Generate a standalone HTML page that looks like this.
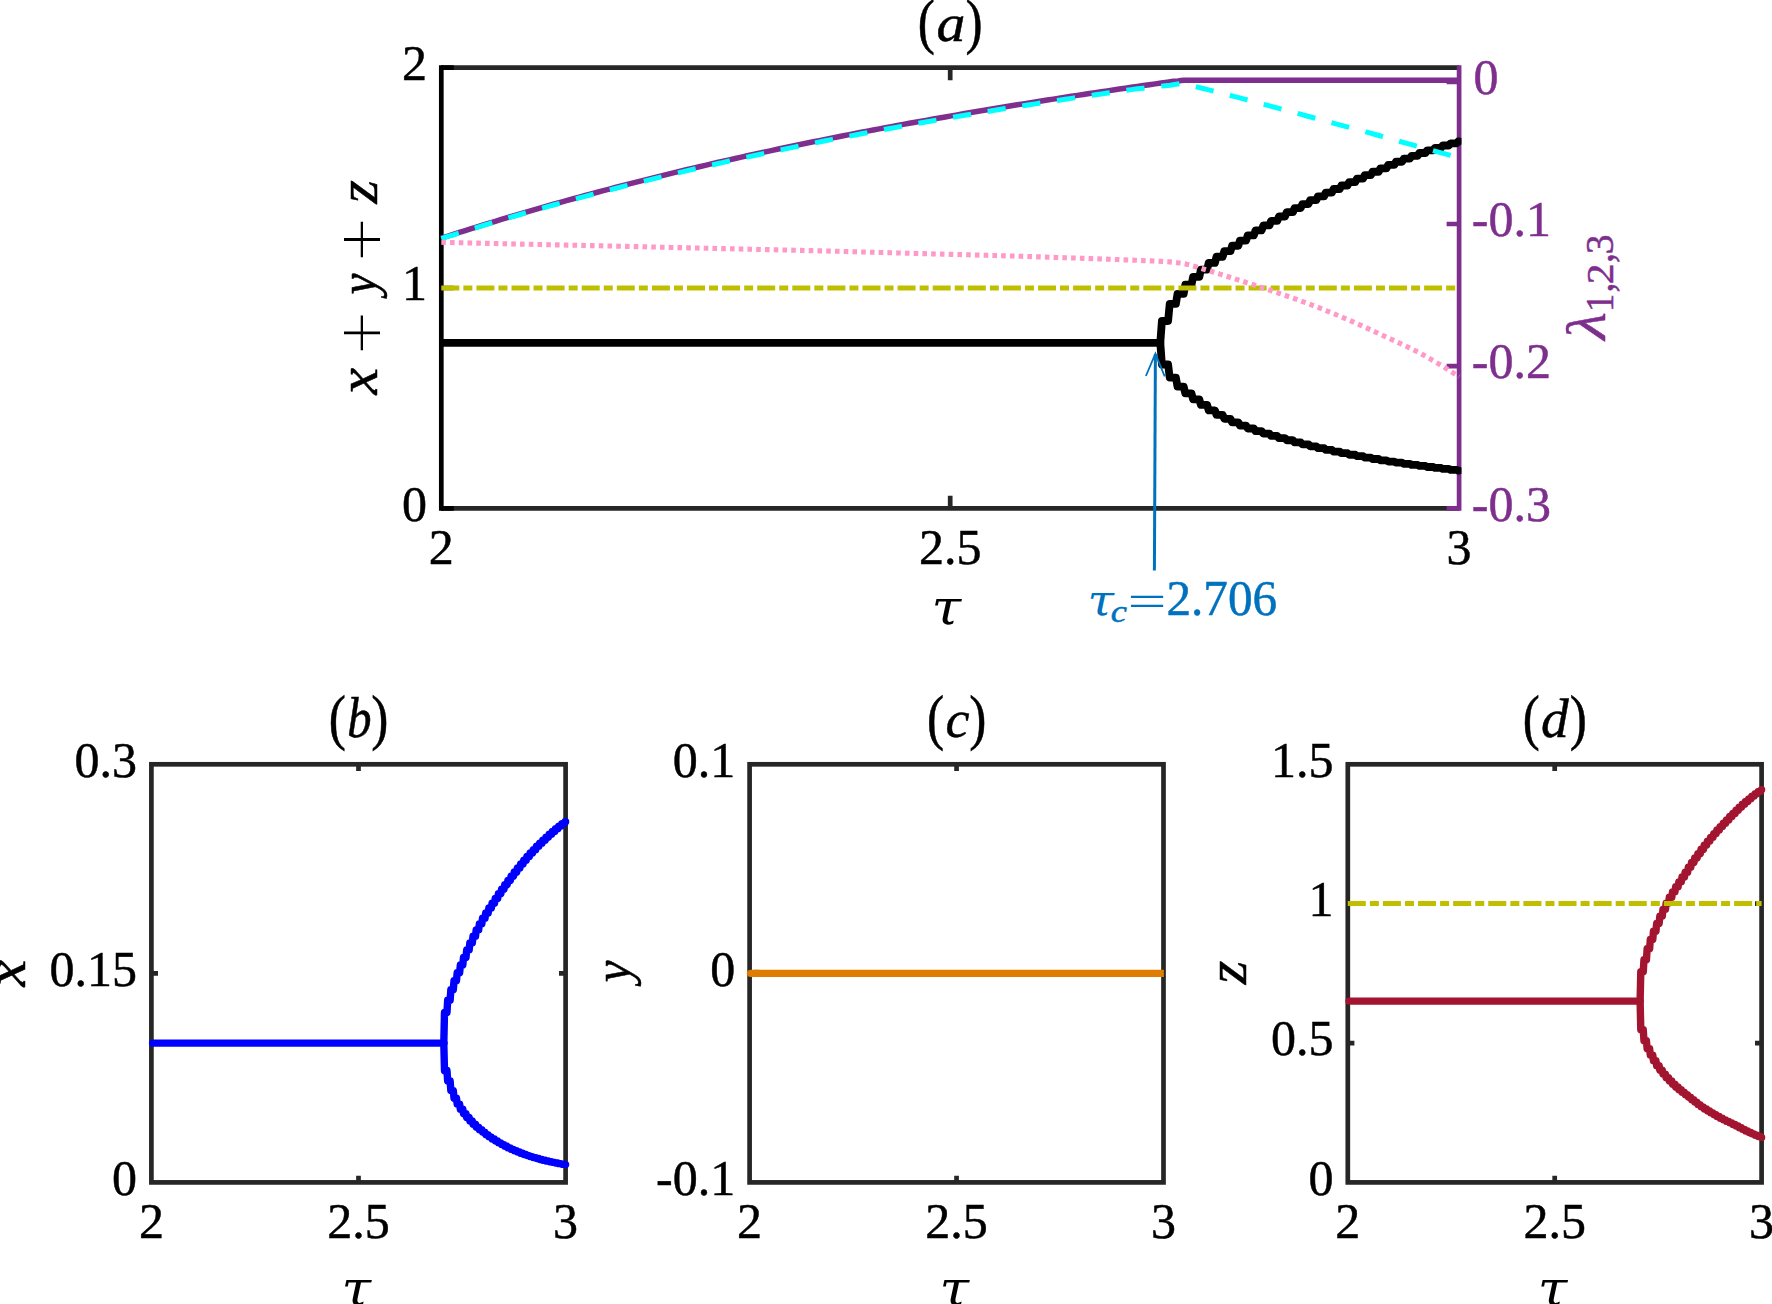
<!DOCTYPE html>
<html lang="en"><head><meta charset="utf-8"><title>Bifurcation diagrams</title>
<style>html,body{margin:0;padding:0;background:#fff}svg{display:block}</style></head>
<body>
<svg width="1772" height="1304" viewBox="0 0 1772 1304" font-family="'Liberation Serif','DejaVu Serif',serif">
<rect width="1772" height="1304" fill="#fff"/>
<g fill="none" stroke-width="4.7" stroke-linecap="butt">
<path stroke="#262626" d="M441.3 67.7 H1459.1 M441.3 508.3 H1459.1"/>
<path stroke="#262626" d="M950.2 67.7 v12.5 M950.2 508.3 v-12.5"/>
<path stroke="#000" d="M441.3 65.35 V510.65"/>
<path stroke="#000" d="M441.3 67.7 h12.5 M441.3 288 h12.5 M441.3 508.3 h12.5"/>
<path stroke="#7E2F8E" d="M1459.1 65.35 V510.65"/>
<path stroke="#7E2F8E" d="M1459.1 81.9 h-12.5 M1459.1 224 h-12.5 M1459.1 366.1 h-12.5 M1459.1 508.3 h-12.5"/>
</g>
<clipPath id="ca"><rect x="430" y="60" width="1031.45" height="460"/></clipPath>
<g fill="none" stroke-linejoin="round" clip-path="url(#ca)">
<path stroke="#000" stroke-width="7.8" stroke-linecap="butt" d="M441.3 342.9 H1160.3"/>
<path stroke="#000" stroke-width="7.8" stroke-linecap="round" d="M1160.3 342.9 L1161.9 321 L1168.1 321 L1169.7 303.9 L1175.9 303.9 L1177.5 293.78 L1183.7 293.78 L1185.3 284.76 L1191.5 284.76 L1193.1 276.87 L1199.3 276.87 L1200.9 269.64 L1207.1 269.64 L1208.7 262.89 L1214.9 262.89 L1216.5 256.77 L1222.7 256.77 L1224.3 251.11 L1230.5 251.11 L1232.1 245.74 L1238.3 245.74 L1239.9 240.58 L1246.1 240.58 L1247.7 235.41 L1253.9 235.41 L1255.5 230.3 L1261.7 230.3 L1263.3 225.47 L1269.5 225.47 L1271.1 220.88 L1277.3 220.88 L1278.9 216.48 L1285.1 216.48 L1286.7 212.22 L1292.9 212.22 L1294.5 208.09 L1300.7 208.09 L1302.3 204.08 L1308.5 204.08 L1310.1 200.18 L1316.3 200.18 L1317.9 196.37 L1324.1 196.37 L1325.7 192.65 L1331.9 192.65 L1333.5 189.02 L1339.7 189.02 L1341.3 185.49 L1347.5 185.49 L1349.1 182.03 L1355.3 182.03 L1356.9 178.61 L1363.1 178.61 L1364.7 175.2 L1370.9 175.2 L1372.5 171.75 L1378.7 171.75 L1380.3 168.31 L1386.5 168.31 L1388.1 164.95 L1394.3 164.95 L1395.9 161.73 L1402.1 161.73 L1403.7 158.7 L1409.9 158.7 L1411.5 155.8 L1417.7 155.8 L1419.3 153 L1425.5 153 L1427.1 150.34 L1433.3 150.34 L1434.9 147.83 L1441.1 147.83 L1442.7 145.49 L1448.9 145.49 L1450.5 143.32 L1456.7 143.32 L1458.3 141.3 L1459.1 141.3"/>
<path stroke="#000" stroke-width="7.8" stroke-linecap="round" d="M1160.3 342.9 L1161.9 364.52 L1168.1 364.52 L1169.7 377.6 L1175.9 377.6 L1177.5 386.53 L1183.7 386.53 L1185.3 393.44 L1191.5 393.44 L1193.1 399.33 L1199.3 399.33 L1200.9 404.95 L1207.1 404.95 L1208.7 410.41 L1214.9 410.41 L1216.5 414.93 L1222.7 414.93 L1224.3 418.81 L1230.5 418.81 L1232.1 422.33 L1238.3 422.33 L1239.9 425.56 L1246.1 425.56 L1247.7 428.51 L1253.9 428.51 L1255.5 431.18 L1261.7 431.18 L1263.3 433.63 L1269.5 433.63 L1271.1 435.96 L1277.3 435.96 L1278.9 438.16 L1285.1 438.16 L1286.7 440.26 L1292.9 440.26 L1294.5 442.32 L1300.7 442.32 L1302.3 444.34 L1308.5 444.34 L1310.1 446.3 L1316.3 446.3 L1317.9 448.17 L1324.1 448.17 L1325.7 449.93 L1331.9 449.93 L1333.5 451.61 L1339.7 451.61 L1341.3 453.22 L1347.5 453.22 L1349.1 454.75 L1355.3 454.75 L1356.9 456.22 L1363.1 456.22 L1364.7 457.63 L1370.9 457.63 L1372.5 458.99 L1378.7 458.99 L1380.3 460.28 L1386.5 460.28 L1388.1 461.53 L1394.3 461.53 L1395.9 462.72 L1402.1 462.72 L1403.7 463.85 L1409.9 463.85 L1411.5 464.93 L1417.7 464.93 L1419.3 465.97 L1425.5 465.97 L1427.1 466.98 L1433.3 466.98 L1434.9 467.97 L1441.1 467.97 L1442.7 468.96 L1448.9 468.96 L1450.5 469.91 L1456.7 469.91 L1458.3 470.6 L1459.1 470.6"/>
<path stroke="#BFBF00" stroke-width="5.1" stroke-dasharray="18 4.05 9 4.05" d="M441.3 288 H1457.1"/>
<path stroke="#7E2F8E" stroke-width="5.5" d="M441.3 238.19 L447.3 236.25 L453.3 234.33 L459.3 232.42 L465.3 230.52 L471.3 228.64 L477.3 226.78 L483.3 224.92 L489.3 223.08 L495.3 221.26 L501.3 219.44 L507.3 217.64 L513.3 215.86 L519.3 214.09 L525.3 212.33 L531.3 210.58 L537.3 208.85 L543.3 207.13 L549.3 205.43 L555.3 203.73 L561.3 202.05 L567.3 200.38 L573.3 198.73 L579.3 197.08 L585.3 195.45 L591.3 193.84 L597.3 192.23 L603.3 190.64 L609.3 189.05 L615.3 187.48 L621.3 185.93 L627.3 184.38 L633.3 182.85 L639.3 181.32 L645.3 179.81 L651.3 178.31 L657.3 176.82 L663.3 175.34 L669.3 173.88 L675.3 172.42 L681.3 170.98 L687.3 169.54 L693.3 168.12 L699.3 166.71 L705.3 165.31 L711.3 163.92 L717.3 162.54 L723.3 161.17 L729.3 159.81 L735.3 158.46 L741.3 157.12 L747.3 155.79 L753.3 154.47 L759.3 153.16 L765.3 151.86 L771.3 150.57 L777.3 149.29 L783.3 148.01 L789.3 146.75 L795.3 145.5 L801.3 144.25 L807.3 143.02 L813.3 141.79 L819.3 140.58 L825.3 139.37 L831.3 138.17 L837.3 136.98 L843.3 135.8 L849.3 134.62 L855.3 133.46 L861.3 132.3 L867.3 131.15 L873.3 130.01 L879.3 128.88 L885.3 127.75 L891.3 126.63 L897.3 125.53 L903.3 124.42 L909.3 123.33 L915.3 122.24 L921.3 121.16 L927.3 120.09 L933.3 119.03 L939.3 117.97 L945.3 116.92 L951.3 115.87 L957.3 114.84 L963.3 113.81 L969.3 112.78 L975.3 111.77 L981.3 110.75 L987.3 109.75 L993.3 108.75 L999.3 107.76 L1005.3 106.77 L1011.3 105.8 L1017.3 104.82 L1023.3 103.85 L1029.3 102.89 L1035.3 101.94 L1041.3 100.98 L1047.3 100.04 L1053.3 99.1 L1059.3 98.17 L1065.3 97.24 L1071.3 96.31 L1077.3 95.39 L1083.3 94.48 L1089.3 93.57 L1095.3 92.66 L1101.3 91.76 L1107.3 90.87 L1113.3 89.98 L1119.3 89.09 L1125.3 88.21 L1131.3 87.33 L1137.3 86.46 L1143.3 85.59 L1149.3 84.72 L1155.3 83.86 L1161.3 83 L1167.3 82.15 L1173.3 81.3 L1178 80.98 L1181 80.56 L1184 80.3 L1187 80.3 L1190 80.3 L1194 80.3 L1200 80.3 L1459.1 80.3"/>
<path stroke="#00FFFF" stroke-width="5.0" stroke-linejoin="miter" stroke-dasharray="18.3 16.79" d="M441.3 238.59 L447.3 236.67 L453.3 234.77 L459.3 232.88 L465.3 231.01 L471.3 229.14 L477.3 227.3 L483.3 225.46 L489.3 223.64 L495.3 221.84 L501.3 220.05 L507.3 218.27 L513.3 216.5 L519.3 214.75 L525.3 213.01 L531.3 211.29 L537.3 209.57 L543.3 207.87 L549.3 206.19 L555.3 204.52 L561.3 202.85 L567.3 201.21 L573.3 199.57 L579.3 197.95 L585.3 196.34 L591.3 194.74 L597.3 193.15 L603.3 191.58 L609.3 190.02 L615.3 188.47 L621.3 186.93 L627.3 185.4 L633.3 183.87 L639.3 182.37 L645.3 180.87 L651.3 179.38 L657.3 177.9 L663.3 176.44 L669.3 174.99 L675.3 173.55 L681.3 172.11 L687.3 170.69 L693.3 169.28 L699.3 167.89 L705.3 166.5 L711.3 165.12 L717.3 163.75 L723.3 162.4 L729.3 161.05 L735.3 159.71 L741.3 158.39 L747.3 157.07 L753.3 155.76 L759.3 154.47 L765.3 153.18 L771.3 151.9 L777.3 150.64 L783.3 149.38 L789.3 148.13 L795.3 146.89 L801.3 145.66 L807.3 144.43 L813.3 143.22 L819.3 142.02 L825.3 140.82 L831.3 139.63 L837.3 138.45 L843.3 137.28 L849.3 136.12 L855.3 134.97 L861.3 133.82 L867.3 132.69 L873.3 131.56 L879.3 130.44 L885.3 129.32 L891.3 128.22 L897.3 127.12 L903.3 126.03 L909.3 124.95 L915.3 123.87 L921.3 122.81 L927.3 121.75 L933.3 120.69 L939.3 119.65 L945.3 118.61 L951.3 117.58 L957.3 116.55 L963.3 115.53 L969.3 114.52 L975.3 113.52 L981.3 112.52 L987.3 111.52 L993.3 110.54 L999.3 109.56 L1005.3 108.59 L1011.3 107.64 L1017.3 106.69 L1023.3 105.74 L1029.3 104.8 L1035.3 103.87 L1041.3 102.94 L1047.3 102.01 L1053.3 101.1 L1059.3 100.18 L1065.3 99.28 L1071.3 98.38 L1077.3 97.48 L1083.3 96.59 L1089.3 95.7 L1095.3 94.82 L1101.3 93.94 L1107.3 93.07 L1113.3 92.2 L1119.3 91.33 L1125.3 90.47 L1131.3 89.62 L1137.3 88.83 L1143.3 88.15 L1149.3 87.47 L1155.3 86.8 L1161.3 86.13 L1167.3 85.46 L1170 85.17 L1176 84.27 L1180 83.68 L1183.3 83.7 L1188.01 84.82 L1192.72 85.96 L1197.42 87.1 L1202.12 88.26 L1206.81 89.43 L1211.51 90.62 L1216.2 91.81 L1220.89 93.02 L1225.57 94.24 L1230.25 95.46 L1234.94 96.69 L1239.62 97.92 L1244.3 99.15 L1248.98 100.38 L1253.66 101.63 L1258.34 102.87 L1263.01 104.12 L1267.69 105.37 L1272.36 106.63 L1277.04 107.89 L1281.71 109.15 L1286.38 110.41 L1291.06 111.67 L1295.73 112.94 L1300.4 114.2 L1305.07 115.47 L1309.74 116.74 L1314.42 118.01 L1319.09 119.28 L1323.76 120.54 L1328.43 121.81 L1333.1 123.08 L1337.77 124.34 L1342.45 125.61 L1347.12 126.87 L1351.79 128.13 L1356.47 129.39 L1361.14 130.66 L1365.81 131.93 L1370.48 133.2 L1375.15 134.49 L1379.81 135.78 L1384.47 137.09 L1389.13 138.4 L1393.79 139.71 L1398.45 141.03 L1403.11 142.34 L1407.77 143.64 L1412.44 144.93 L1417.1 146.21 L1421.77 147.5 L1426.44 148.78 L1431.11 150.06 L1435.78 151.34 L1440.44 152.62 L1445.11 153.92 L1449.77 155.21 L1454.44 156.5 L1459.1 157.8"/>
<path stroke="#FF99C8" stroke-width="5.1" stroke-dasharray="4.6 4.15" d="M441.3 242.3 L443.91 242.36 L446.52 242.42 L449.13 242.48 L451.74 242.55 L454.35 242.61 L456.96 242.67 L459.57 242.73 L462.18 242.79 L464.79 242.85 L467.4 242.91 L470.01 242.97 L472.62 243.03 L475.23 243.09 L477.84 243.15 L480.45 243.21 L483.05 243.27 L485.66 243.33 L488.27 243.39 L490.88 243.45 L493.49 243.51 L496.1 243.57 L498.71 243.63 L501.32 243.68 L503.93 243.74 L506.54 243.8 L509.15 243.86 L511.76 243.92 L514.37 243.98 L516.98 244.03 L519.59 244.09 L522.2 244.15 L524.81 244.21 L527.42 244.26 L530.03 244.32 L532.64 244.37 L535.25 244.43 L537.86 244.49 L540.47 244.54 L543.08 244.6 L545.69 244.65 L548.3 244.71 L550.91 244.76 L553.52 244.81 L556.13 244.87 L558.74 244.92 L561.35 244.98 L563.96 245.03 L566.57 245.09 L569.18 245.14 L571.79 245.2 L574.4 245.25 L577.01 245.31 L579.62 245.36 L582.23 245.42 L584.84 245.47 L587.45 245.53 L590.06 245.58 L592.67 245.64 L595.28 245.7 L597.89 245.75 L600.49 245.81 L603.1 245.87 L605.71 245.93 L608.32 245.98 L610.93 246.04 L613.54 246.1 L616.15 246.16 L618.76 246.22 L621.37 246.28 L623.98 246.34 L626.59 246.4 L629.2 246.46 L631.81 246.52 L634.42 246.58 L637.03 246.64 L639.64 246.7 L642.25 246.76 L644.86 246.82 L647.47 246.88 L650.08 246.94 L652.69 247 L655.3 247.06 L657.91 247.12 L660.52 247.18 L663.13 247.24 L665.74 247.3 L668.35 247.36 L670.96 247.43 L673.57 247.49 L676.18 247.55 L678.79 247.61 L681.4 247.67 L684.01 247.73 L686.61 247.79 L689.22 247.85 L691.83 247.91 L694.44 247.97 L697.05 248.03 L699.66 248.09 L702.27 248.15 L704.88 248.21 L707.49 248.27 L710.1 248.33 L712.71 248.39 L715.32 248.45 L717.93 248.51 L720.54 248.57 L723.15 248.63 L725.76 248.69 L728.37 248.74 L730.98 248.8 L733.59 248.86 L736.2 248.92 L738.81 248.98 L741.42 249.04 L744.03 249.09 L746.64 249.15 L749.25 249.21 L751.86 249.27 L754.47 249.33 L757.08 249.39 L759.69 249.44 L762.3 249.5 L764.91 249.56 L767.52 249.62 L770.13 249.68 L772.74 249.74 L775.35 249.8 L777.96 249.86 L780.57 249.92 L783.17 249.98 L785.78 250.04 L788.39 250.1 L791 250.16 L793.61 250.22 L796.22 250.28 L798.83 250.34 L801.44 250.4 L804.05 250.47 L806.66 250.53 L809.27 250.59 L811.88 250.65 L814.49 250.72 L817.1 250.78 L819.71 250.84 L822.32 250.91 L824.93 250.97 L827.54 251.04 L830.15 251.1 L832.76 251.17 L835.37 251.24 L837.98 251.3 L840.59 251.37 L843.2 251.44 L845.8 251.51 L848.41 251.58 L851.02 251.65 L853.63 251.72 L856.24 251.8 L858.85 251.87 L861.46 251.94 L864.07 252.01 L866.68 252.09 L869.29 252.16 L871.9 252.23 L874.51 252.3 L877.12 252.38 L879.73 252.45 L882.34 252.52 L884.95 252.6 L887.56 252.67 L890.16 252.74 L892.77 252.82 L895.38 252.89 L897.99 252.96 L900.6 253.04 L903.21 253.11 L905.82 253.18 L908.43 253.25 L911.04 253.32 L913.65 253.39 L916.26 253.46 L918.87 253.53 L921.48 253.6 L924.09 253.67 L926.7 253.73 L929.31 253.8 L931.92 253.87 L934.53 253.94 L937.13 254 L939.74 254.07 L942.35 254.14 L944.96 254.21 L947.57 254.27 L950.18 254.34 L952.79 254.41 L955.4 254.48 L958.01 254.54 L960.62 254.61 L963.23 254.68 L965.84 254.75 L968.45 254.82 L971.06 254.88 L973.67 254.95 L976.28 255.02 L978.89 255.09 L981.5 255.16 L984.11 255.23 L986.72 255.31 L989.32 255.38 L991.93 255.45 L994.54 255.53 L997.15 255.6 L999.76 255.68 L1002.37 255.75 L1004.98 255.83 L1007.59 255.9 L1010.2 255.98 L1012.81 256.06 L1015.42 256.14 L1018.03 256.22 L1020.64 256.3 L1023.24 256.38 L1025.85 256.46 L1028.46 256.54 L1031.07 256.62 L1033.68 256.7 L1036.29 256.78 L1038.9 256.86 L1041.51 256.95 L1044.12 257.03 L1046.73 257.11 L1049.34 257.2 L1051.94 257.28 L1054.55 257.37 L1057.16 257.45 L1059.77 257.54 L1062.38 257.63 L1064.99 257.71 L1067.6 257.8 L1070.21 257.89 L1072.82 257.98 L1075.43 258.07 L1078.03 258.15 L1080.64 258.24 L1083.25 258.33 L1085.86 258.42 L1088.47 258.52 L1091.08 258.61 L1093.69 258.7 L1096.3 258.79 L1098.9 258.88 L1101.51 258.97 L1104.12 259.07 L1106.73 259.16 L1109.34 259.26 L1111.95 259.35 L1114.56 259.45 L1117.17 259.55 L1119.77 259.64 L1122.38 259.74 L1124.99 259.84 L1127.6 259.94 L1130.21 260.05 L1132.82 260.15 L1135.42 260.26 L1138.03 260.36 L1140.64 260.47 L1143.25 260.58 L1145.86 260.69 L1148.47 260.8 L1151.08 260.9 L1153.68 261.01 L1156.29 261.13 L1158.9 261.25 L1161.51 261.39 L1164.11 261.54 L1166.71 261.72 L1169.32 261.91 L1171.93 262.14 L1174.54 262.39 L1177.13 262.68 L1179.72 263 L1182.28 263.36 L1184.83 263.83 L1187.37 264.39 L1189.9 265.03 L1192.42 265.73 L1194.94 266.47 L1197.45 267.24 L1199.95 268.02 L1202.46 268.79 L1204.97 269.53 L1207.47 270.26 L1209.97 271 L1212.47 271.76 L1214.97 272.53 L1217.46 273.31 L1219.95 274.09 L1222.43 274.89 L1224.92 275.68 L1227.41 276.48 L1229.89 277.28 L1232.38 278.07 L1234.87 278.86 L1237.36 279.65 L1239.84 280.45 L1242.33 281.24 L1244.82 282.03 L1247.3 282.83 L1249.79 283.63 L1252.27 284.43 L1254.76 285.24 L1257.24 286.04 L1259.72 286.86 L1262.2 287.67 L1264.68 288.49 L1267.16 289.31 L1269.63 290.14 L1272.1 290.97 L1274.58 291.81 L1277.05 292.64 L1279.52 293.48 L1282 294.32 L1284.47 295.17 L1286.94 296.02 L1289.4 296.87 L1291.87 297.73 L1294.33 298.59 L1296.79 299.47 L1299.25 300.34 L1301.71 301.23 L1304.16 302.13 L1306.61 303.03 L1309.05 303.94 L1311.49 304.86 L1313.93 305.8 L1316.36 306.73 L1318.8 307.68 L1321.23 308.64 L1323.66 309.6 L1326.08 310.57 L1328.5 311.54 L1330.92 312.52 L1333.34 313.51 L1335.75 314.51 L1338.16 315.51 L1340.57 316.52 L1342.98 317.53 L1345.38 318.55 L1347.78 319.57 L1350.17 320.61 L1352.57 321.65 L1354.95 322.71 L1357.34 323.77 L1359.72 324.83 L1362.1 325.91 L1364.48 326.99 L1366.86 328.07 L1369.23 329.16 L1371.6 330.25 L1373.97 331.34 L1376.34 332.44 L1378.71 333.53 L1381.08 334.63 L1383.45 335.72 L1385.82 336.82 L1388.2 337.91 L1390.57 338.99 L1392.95 340.08 L1395.32 341.17 L1397.69 342.27 L1400.06 343.37 L1402.43 344.48 L1404.79 345.59 L1407.15 346.72 L1409.5 347.85 L1411.84 349 L1414.17 350.17 L1416.5 351.35 L1418.81 352.54 L1421.11 353.76 L1423.41 355.01 L1425.69 356.27 L1427.96 357.56 L1430.23 358.86 L1432.48 360.18 L1434.73 361.51 L1436.98 362.84 L1439.22 364.19 L1441.45 365.54 L1443.67 366.91 L1445.88 368.3 L1448.08 369.7 L1450.28 371.11 L1452.48 372.52 L1454.68 373.92 L1456.89 375.31 L1459.1 376.7"/>
</g>
<g fill="none" stroke="#0072BD">
<path stroke-width="3" d="M1154.4 570.6 L1155.4 354"/>
<path stroke-width="1.8" stroke-linejoin="miter" d="M1145.9 376 L1155.4 353.6 L1164.7 376.4"/>
</g>
<g fill="none" stroke="#262626" stroke-width="4.7">
<rect x="151.4" y="764.3" width="414.2" height="418.1"/>
</g>
<g fill="none" stroke="#262626" stroke-width="4.7">
<rect x="749.6" y="764.3" width="413.9" height="418.1"/>
</g>
<g fill="none" stroke="#262626" stroke-width="4.7">
<rect x="1347.8" y="764.3" width="413.8" height="418.1"/>
</g>
<path fill="none" stroke="#262626" stroke-width="4.7" d="M358.5 764.3 v6.6 M358.5 1182.4 v-6.6 M151.4 973.35 h6.6 M565.6 973.35 h-6.6"/>
<path fill="none" stroke="#262626" stroke-width="4.7" d="M956.55 764.3 v6.6 M956.55 1182.4 v-6.6 M749.6 973.35 h6.6 M1163.5 973.35 h-6.6"/>
<path fill="none" stroke="#262626" stroke-width="4.7" d="M1554.7 764.3 v6.6 M1554.7 1182.4 v-6.6 M1347.8 1043.03 h6.6 M1761.6 1043.03 h-6.6 M1347.8 903.67 h6.6 M1761.6 903.67 h-6.6"/>
<g fill="none" stroke-linejoin="round" stroke-linecap="round" stroke-width="7.4">
<path stroke="#0000FF" d="M152.6 1043.1 H443.8"/>
<path stroke="#0000FF" d="M443.8 1043.1 L444.5 1012.54 L446.97 1012.54 L447.67 1000.29 L450.14 1000.29 L450.84 989.78 L453.31 989.78 L454.01 980.69 L456.48 980.69 L457.18 972.7 L459.65 972.7 L460.35 964.99 L462.82 964.99 L463.52 957.35 L465.99 957.35 L466.69 949.99 L469.16 949.99 L469.86 942.99 L472.33 942.99 L473.03 936.27 L475.5 936.27 L476.2 929.86 L478.67 929.86 L479.37 923.84 L481.84 923.84 L482.54 918.27 L485.01 918.27 L485.71 913.05 L488.18 913.05 L488.88 908.06 L491.35 908.06 L492.05 903.23 L494.52 903.23 L495.22 898.47 L497.69 898.47 L498.39 893.79 L500.86 893.79 L501.56 889.23 L504.03 889.23 L504.73 884.78 L507.2 884.78 L507.9 880.44 L510.37 880.44 L511.07 876.21 L513.54 876.21 L514.24 872.06 L516.71 872.06 L517.41 868 L519.88 868 L520.58 864.05 L523.05 864.05 L523.75 860.23 L526.22 860.23 L526.92 856.57 L529.39 856.57 L530.09 853.03 L532.56 853.03 L533.26 849.61 L535.73 849.61 L536.43 846.31 L538.9 846.31 L539.6 843.14 L542.07 843.14 L542.77 840.1 L545.24 840.1 L545.94 837.15 L548.41 837.15 L549.11 834.28 L551.58 834.28 L552.28 831.49 L554.75 831.49 L555.45 828.79 L557.92 828.79 L558.62 826.18 L561.09 826.18 L561.79 823.65 L564.26 823.65 L564.96 821.7 L565.6 821.7"/>
<path stroke="#0000FF" d="M443.8 1043.1 L444.5 1070.57 L446.97 1070.57 L447.67 1080.95 L450.14 1080.95 L450.84 1090.58 L453.31 1090.58 L454.01 1098.08 L456.48 1098.08 L457.18 1104.18 L459.65 1104.18 L460.35 1109.32 L462.82 1109.32 L463.52 1113.67 L465.99 1113.67 L466.69 1117.53 L469.16 1117.53 L469.86 1121.03 L472.33 1121.03 L473.03 1124.19 L475.5 1124.19 L476.2 1127.09 L478.67 1127.09 L479.37 1129.78 L481.84 1129.78 L482.54 1132.31 L485.01 1132.31 L485.71 1134.68 L488.18 1134.68 L488.88 1136.91 L491.35 1136.91 L492.05 1139.01 L494.52 1139.01 L495.22 1140.99 L497.69 1140.99 L498.39 1142.86 L500.86 1142.86 L501.56 1144.64 L504.03 1144.64 L504.73 1146.31 L507.2 1146.31 L507.9 1147.89 L510.37 1147.89 L511.07 1149.37 L513.54 1149.37 L514.24 1150.76 L516.71 1150.76 L517.41 1152.07 L519.88 1152.07 L520.58 1153.31 L523.05 1153.31 L523.75 1154.48 L526.22 1154.48 L526.92 1155.58 L529.39 1155.58 L530.09 1156.63 L532.56 1156.63 L533.26 1157.63 L535.73 1157.63 L536.43 1158.57 L538.9 1158.57 L539.6 1159.44 L542.07 1159.44 L542.77 1160.24 L545.24 1160.24 L545.94 1160.99 L548.41 1160.99 L549.11 1161.72 L551.58 1161.72 L552.28 1162.41 L554.75 1162.41 L555.45 1163.06 L557.92 1163.06 L558.62 1163.66 L561.09 1163.66 L561.79 1164.2 L564.26 1164.2 L564.96 1164.6 L565.6 1164.6"/>
<path stroke="#DE7D00" d="M750.6 973.35 h8"/>
<path stroke="#DE7D00" stroke-linecap="butt" d="M753.6 973.35 H1163.9"/>
<path stroke="#A2142F" d="M1349 1001.1 H1640.1"/>
<path stroke="#A2142F" d="M1640.1 1001.1 L1640.8 971.71 L1643.27 971.71 L1643.97 959.65 L1646.44 959.65 L1647.14 948.82 L1649.61 948.82 L1650.31 939.5 L1652.78 939.5 L1653.48 931.18 L1655.95 931.18 L1656.65 923.52 L1659.12 923.52 L1659.82 916.22 L1662.29 916.22 L1662.99 909.37 L1665.46 909.37 L1666.16 903.08 L1668.63 903.08 L1669.33 897.31 L1671.8 897.31 L1672.5 891.86 L1674.97 891.86 L1675.67 886.73 L1678.14 886.73 L1678.84 881.83 L1681.31 881.83 L1682.01 877.01 L1684.48 877.01 L1685.18 872.15 L1687.65 872.15 L1688.35 867.3 L1690.82 867.3 L1691.52 862.55 L1693.99 862.55 L1694.69 857.98 L1697.16 857.98 L1697.86 853.59 L1700.33 853.59 L1701.03 849.32 L1703.5 849.32 L1704.2 845.19 L1706.67 845.19 L1707.37 841.19 L1709.84 841.19 L1710.54 837.33 L1713.01 837.33 L1713.71 833.63 L1716.18 833.63 L1716.88 830.06 L1719.35 830.06 L1720.05 826.59 L1722.52 826.59 L1723.22 823.21 L1725.69 823.21 L1726.39 819.88 L1728.86 819.88 L1729.56 816.57 L1732.03 816.57 L1732.73 813.33 L1735.2 813.33 L1735.9 810.18 L1738.37 810.18 L1739.07 807.16 L1741.54 807.16 L1742.24 804.28 L1744.71 804.28 L1745.41 801.52 L1747.88 801.52 L1748.58 798.86 L1751.05 798.86 L1751.75 796.29 L1754.22 796.29 L1754.92 793.81 L1757.39 793.81 L1758.09 791.41 L1760.56 791.41 L1761.26 789.8 L1761.6 789.8"/>
<path stroke="#A2142F" d="M1640.1 1001.1 L1640.8 1029.7 L1643.27 1029.7 L1643.97 1040.77 L1646.44 1040.77 L1647.14 1048.66 L1649.61 1048.66 L1650.31 1055.23 L1652.78 1055.23 L1653.48 1060.76 L1655.95 1060.76 L1656.65 1065.69 L1659.12 1065.69 L1659.82 1070.12 L1662.29 1070.12 L1662.99 1074.13 L1665.46 1074.13 L1666.16 1077.77 L1668.63 1077.77 L1669.33 1081.06 L1671.8 1081.06 L1672.5 1084.12 L1674.97 1084.12 L1675.67 1087.01 L1678.14 1087.01 L1678.84 1089.72 L1681.31 1089.72 L1682.01 1092.28 L1684.48 1092.28 L1685.18 1094.77 L1687.65 1094.77 L1688.35 1097.24 L1690.82 1097.24 L1691.52 1099.74 L1693.99 1099.74 L1694.69 1102.2 L1697.16 1102.2 L1697.86 1104.59 L1700.33 1104.59 L1701.03 1106.86 L1703.5 1106.86 L1704.2 1108.99 L1706.67 1108.99 L1707.37 1111 L1709.84 1111 L1710.54 1112.92 L1713.01 1112.92 L1713.71 1114.76 L1716.18 1114.76 L1716.88 1116.53 L1719.35 1116.53 L1720.05 1118.24 L1722.52 1118.24 L1723.22 1119.84 L1725.69 1119.84 L1726.39 1121.39 L1728.86 1121.39 L1729.56 1122.92 L1732.03 1122.92 L1732.73 1124.47 L1735.2 1124.47 L1735.9 1126.07 L1738.37 1126.07 L1739.07 1127.71 L1741.54 1127.71 L1742.24 1129.34 L1744.71 1129.34 L1745.41 1130.94 L1747.88 1130.94 L1748.58 1132.44 L1751.05 1132.44 L1751.75 1133.87 L1754.22 1133.87 L1754.92 1135.23 L1757.39 1135.23 L1758.09 1136.53 L1760.56 1136.53 L1761.26 1137.4 L1761.6 1137.4"/>
</g>
<path fill="none" stroke="#BFBF00" stroke-width="5" stroke-dasharray="18 4.06 9 4.06" d="M1347.8 903.5 H1761.6"/>
<text x="426.9" y="79.9" font-size="50" text-anchor="end" fill="#000" stroke="#000" stroke-width="0.5">2</text>
<text x="426.9" y="300.2" font-size="50" text-anchor="end" fill="#000" stroke="#000" stroke-width="0.5">1</text>
<text x="426.9" y="520.5" font-size="50" text-anchor="end" fill="#000" stroke="#000" stroke-width="0.5">0</text>
<text x="441.3" y="564" font-size="50" text-anchor="middle" fill="#000" stroke="#000" stroke-width="0.5">2</text>
<text x="950.2" y="564" font-size="50" text-anchor="middle" fill="#000" stroke="#000" stroke-width="0.5">2.5</text>
<text x="1459.1" y="564" font-size="50" text-anchor="middle" fill="#000" stroke="#000" stroke-width="0.5">3</text>
<text x="1473.4" y="94.1" font-size="50" text-anchor="start" fill="#7E2F8E" stroke="#7E2F8E" stroke-width="0.5">0</text>
<text x="1471.8" y="236.2" font-size="50" text-anchor="start" fill="#7E2F8E" stroke="#7E2F8E" stroke-width="0.5">-0.1</text>
<text x="1471.8" y="378.3" font-size="50" text-anchor="start" fill="#7E2F8E" stroke="#7E2F8E" stroke-width="0.5">-0.2</text>
<text x="1471.8" y="520.5" font-size="50" text-anchor="start" fill="#7E2F8E" stroke="#7E2F8E" stroke-width="0.5">-0.3</text>
<text x="137" y="776.5" font-size="50" text-anchor="end" fill="#000" stroke="#000" stroke-width="0.5">0.3</text>
<text x="137" y="985.55" font-size="50" text-anchor="end" fill="#000" stroke="#000" stroke-width="0.5">0.15</text>
<text x="137" y="1194.6" font-size="50" text-anchor="end" fill="#000" stroke="#000" stroke-width="0.5">0</text>
<text x="151.4" y="1238" font-size="50" text-anchor="middle" fill="#000" stroke="#000" stroke-width="0.5">2</text>
<text x="358.5" y="1238" font-size="50" text-anchor="middle" fill="#000" stroke="#000" stroke-width="0.5">2.5</text>
<text x="565.6" y="1238" font-size="50" text-anchor="middle" fill="#000" stroke="#000" stroke-width="0.5">3</text>
<text x="735.2" y="776.5" font-size="50" text-anchor="end" fill="#000" stroke="#000" stroke-width="0.5">0.1</text>
<text x="735.2" y="985.55" font-size="50" text-anchor="end" fill="#000" stroke="#000" stroke-width="0.5">0</text>
<text x="735.2" y="1194.6" font-size="50" text-anchor="end" fill="#000" stroke="#000" stroke-width="0.5">-0.1</text>
<text x="749.6" y="1238" font-size="50" text-anchor="middle" fill="#000" stroke="#000" stroke-width="0.5">2</text>
<text x="956.55" y="1238" font-size="50" text-anchor="middle" fill="#000" stroke="#000" stroke-width="0.5">2.5</text>
<text x="1163.5" y="1238" font-size="50" text-anchor="middle" fill="#000" stroke="#000" stroke-width="0.5">3</text>
<text x="1333.4" y="776.5" font-size="50" text-anchor="end" fill="#000" stroke="#000" stroke-width="0.5">1.5</text>
<text x="1333.4" y="915.87" font-size="50" text-anchor="end" fill="#000" stroke="#000" stroke-width="0.5">1</text>
<text x="1333.4" y="1055.23" font-size="50" text-anchor="end" fill="#000" stroke="#000" stroke-width="0.5">0.5</text>
<text x="1333.4" y="1194.6" font-size="50" text-anchor="end" fill="#000" stroke="#000" stroke-width="0.5">0</text>
<text x="1347.8" y="1238" font-size="50" text-anchor="middle" fill="#000" stroke="#000" stroke-width="0.5">2</text>
<text x="1554.7" y="1238" font-size="50" text-anchor="middle" fill="#000" stroke="#000" stroke-width="0.5">2.5</text>
<text x="1761.6" y="1238" font-size="50" text-anchor="middle" fill="#000" stroke="#000" stroke-width="0.5">3</text>
<g><text transform="matrix(0.5139 0 0 0.6055 917.84 42.01)" font-size="100" fill="#000" stroke="#000" stroke-width="0.89">(</text><text transform="matrix(0.5779 0 0 0.5344 936.38 41.35)" font-size="100" font-style="italic" fill="#000" stroke="#000" stroke-width="0.9">a</text><text transform="matrix(0.5139 0 0 0.6055 965.54 42.01)" font-size="100" fill="#000" stroke="#000" stroke-width="0.89">)</text></g>
<g><text transform="matrix(0.5139 0 0 0.6055 328.84 738.01)" font-size="100" fill="#000" stroke="#000" stroke-width="0.89">(</text><text transform="matrix(0.4854 0 0 0.5600 347.3 737.35)" font-size="100" font-style="italic" fill="#000" stroke="#000" stroke-width="0.96">b</text><text transform="matrix(0.5139 0 0 0.6055 371.14 738.01)" font-size="100" fill="#000" stroke="#000" stroke-width="0.89">)</text></g>
<g><text transform="matrix(0.5139 0 0 0.6055 926.94 738.01)" font-size="100" fill="#000" stroke="#000" stroke-width="0.89">(</text><text transform="matrix(0.5393 0 0 0.5240 945.44 737.39)" font-size="100" font-style="italic" fill="#000" stroke="#000" stroke-width="0.94">c</text><text transform="matrix(0.5139 0 0 0.6055 969.14 738.01)" font-size="100" fill="#000" stroke="#000" stroke-width="0.89">)</text></g>
<g><text transform="matrix(0.5101 0 0 0.6055 1522.86 738.01)" font-size="100" fill="#000" stroke="#000" stroke-width="0.9">(</text><text transform="matrix(0.5528 0 0 0.5567 1541.03 737.33)" font-size="100" font-style="italic" fill="#000" stroke="#000" stroke-width="0.9">d</text><text transform="matrix(0.5139 0 0 0.6055 1569.84 738.01)" font-size="100" fill="#000" stroke="#000" stroke-width="0.89">)</text></g>
<text transform="matrix(0.5380 0 0 0.4857 931.53 623.91)" font-size="100" font-family="'DejaVu Serif','Liberation Serif',serif" font-style="italic" fill="#000" stroke="#000" stroke-width="0">τ</text>
<text transform="matrix(0.5360 0 0 0.4857 341.54 1304.81)" font-size="100" font-family="'DejaVu Serif','Liberation Serif',serif" font-style="italic" fill="#000" stroke="#000" stroke-width="0">τ</text>
<text transform="matrix(0.5360 0 0 0.4857 939.59 1304.81)" font-size="100" font-family="'DejaVu Serif','Liberation Serif',serif" font-style="italic" fill="#000" stroke="#000" stroke-width="0">τ</text>
<text transform="matrix(0.5360 0 0 0.4857 1537.74 1304.81)" font-size="100" font-family="'DejaVu Serif','Liberation Serif',serif" font-style="italic" fill="#000" stroke="#000" stroke-width="0">τ</text>
<g><text transform="translate(377.4 395.2) rotate(-90) matrix(0.5995 0 0 0.5643 0.73 0)" font-size="100" font-style="italic" fill="#000" stroke="#000" stroke-width="0.86">x</text><text transform="translate(377.4 395.2) rotate(-90) matrix(0.5575 0 0 0.5774 38.89 2.8)" font-size="100" font-family="'DejaVu Sans','Liberation Sans',sans-serif" font-weight="200" fill="#000" stroke="#000" stroke-width="0">+</text><text transform="translate(377.4 395.2) rotate(-90) matrix(0.4717 0 0 0.5231 100.64 -1.89)" font-size="100" font-style="italic" fill="#000" stroke="#000" stroke-width="1.01">y</text><text transform="translate(377.4 395.2) rotate(-90) matrix(0.5671 0 0 0.5774 131.89 2.8)" font-size="100" font-family="'DejaVu Sans','Liberation Sans',sans-serif" font-weight="200" fill="#000" stroke="#000" stroke-width="0">+</text><text transform="translate(377.4 395.2) rotate(-90) matrix(0.6017 0 0 0.5643 191.68 0)" font-size="100" font-style="italic" fill="#000" stroke="#000" stroke-width="0.86">z</text></g>
<text transform="translate(24.8 987.3) rotate(-90) matrix(0.6039 0 0 0.5643 0.74 0)" font-size="100" font-style="italic" fill="#000" stroke="#000" stroke-width="0.86">x</text>
<text transform="translate(631.2 986.4) rotate(-90) matrix(0.4888 0 0 0.5365 4.08 -1.28)" font-size="100" font-style="italic" fill="#000" stroke="#000" stroke-width="0.98">y</text>
<text transform="translate(1245.5 985) rotate(-90) matrix(0.6043 0 0 0.5643 0.68 0)" font-size="100" font-style="italic" fill="#000" stroke="#000" stroke-width="0.86">z</text>
<g><text transform="translate(1605.4 341.3) rotate(-90) matrix(0.6380 0 0 0.5496 1.56 0)" font-size="100" font-style="italic" fill="#7E2F8E" stroke="#7E2F8E" stroke-width="0.84">λ</text><text transform="translate(1605.4 341.3) rotate(-90) matrix(0.3664 0 0 0.3908 29.28 7.6)" font-size="100" fill="#7E2F8E" stroke="#7E2F8E" stroke-width="1.32">1</text><text transform="translate(1605.4 341.3) rotate(-90) matrix(0.4029 0 0 0.4361 48.77 7.89)" font-size="100" fill="#7E2F8E" stroke="#7E2F8E" stroke-width="1.19">,</text><text transform="translate(1605.4 341.3) rotate(-90) matrix(0.4141 0 0 0.3897 57.08 7.6)" font-size="100" fill="#7E2F8E" stroke="#7E2F8E" stroke-width="1.24">2</text><text transform="translate(1605.4 341.3) rotate(-90) matrix(0.4029 0 0 0.4361 78.27 7.89)" font-size="100" fill="#7E2F8E" stroke="#7E2F8E" stroke-width="1.19">,</text><text transform="translate(1605.4 341.3) rotate(-90) matrix(0.3946 0 0 0.3900 87.11 7.62)" font-size="100" fill="#7E2F8E" stroke="#7E2F8E" stroke-width="1.27">3</text></g>
<g><text transform="matrix(0.4800 0 0 0.4285 1087.61 615.34)" font-size="100" font-family="'DejaVu Serif','Liberation Serif',serif" font-style="italic" fill="#0072BD" stroke="#0072BD" stroke-width="0">τ</text><text transform="matrix(0.3654 0 0 0.3077 1110.68 621.9)" font-size="100" font-style="italic" fill="#0072BD" stroke="#0072BD" stroke-width="1.49">c</text><text transform="matrix(0.5144 0 0 0.5830 1125.55 620.42)" font-size="100" font-family="'DejaVu Sans','Liberation Sans',sans-serif" font-weight="200" fill="#0072BD" stroke="#0072BD" stroke-width="0">=</text><text transform="matrix(0.4921 0 0 0.5045 1166.44 615.2)" font-size="100" fill="#0072BD" stroke="#0072BD" stroke-width="1">2.706</text></g>
</svg>
</body></html>
